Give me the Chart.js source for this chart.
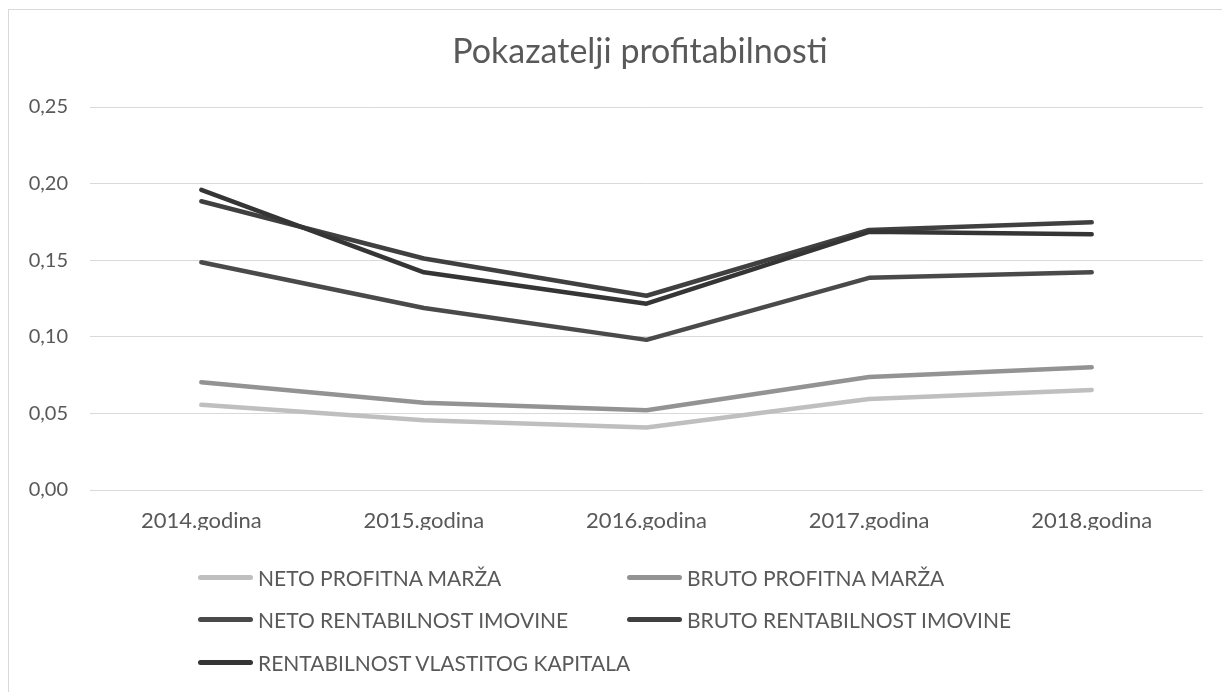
<!DOCTYPE html>
<html><head><meta charset="utf-8">
<script src="https://cdn.jsdelivr.net/npm/chart.js@4/dist/chart.umd.min.js"></script>
<style>
html,body{margin:0;padding:0;background:#fff;width:1222px;height:692px;overflow:hidden;font-family:Lato,sans-serif}
#frame{position:absolute;left:8px;top:9px;width:1214px;height:683px;border-left:1px solid #d9d9d9;border-top:1px solid #d9d9d9;box-sizing:border-box}
#wrap{position:absolute;left:0;top:0;width:1222px;height:545px}
#title{position:absolute;left:340px;width:600px;top:29px;height:42px;line-height:42px;text-align:center;color:#595959;font-size:34px;font-family:Lato,sans-serif}
#legend{position:absolute;left:0;top:0;width:1222px;height:692px;pointer-events:none}
.item{position:absolute;display:flex;align-items:center;height:24px;color:#595959;font-size:21px;font-family:Lato,sans-serif;white-space:nowrap}
.mk{width:55px;height:5px;border-radius:3px;margin-right:5px}
</style></head><body>
<div id="frame"></div>
<div id="wrap"><canvas id="c"></canvas></div>
<div id="title">Pokazatelji profitabilnosti</div>
<div id="legend"></div>
<script>
const categories = ['2014.godina','2015.godina','2016.godina','2017.godina','2018.godina'];
const seriesNames = ['NETO PROFITNA MARŽA','BRUTO PROFITNA MARŽA','NETO RENTABILNOST IMOVINE','BRUTO RENTABILNOST IMOVINE','RENTABILNOST VLASTITOG KAPITALA'];
const netoProfitnaMarza = [0.0556, 0.0456, 0.0408, 0.0594, 0.0653];
const brutoProfitnaMarza = [0.0703, 0.0570, 0.0520, 0.0737, 0.0801];
const netoRentabilnostImovine = [0.1487, 0.1188, 0.0980, 0.1385, 0.1421];
const brutoRentabilnostImovine = [0.1885, 0.1511, 0.1268, 0.1697, 0.1747];
const rentabilnostKapitala = [0.1959, 0.1421, 0.1216, 0.1685, 0.1670];
const yTickLabels = ['0,00','0,05','0,10','0,15','0,20','0,25'];
const colors = ['#bfbfbf','#939393','#4a4a4a','#404040','#353535'];
const values = [netoProfitnaMarza, brutoProfitnaMarza, netoRentabilnostImovine, brutoRentabilnostImovine, rentabilnostKapitala];

const datasets = values.map((v,i)=>({
  label: seriesNames[i], data: v, borderColor: colors[i], backgroundColor: colors[i],
  borderWidth: 4.5, pointRadius: 0, tension: 0, borderCapStyle: 'round', borderJoinStyle: 'round',
  order: values.length - i
}));

new Chart(document.getElementById('c'), {
  type: 'line',
  data: { labels: categories, datasets },
  options: {
    responsive: true, maintainAspectRatio: false, animation: false,
    layout: { padding: { left: 8, right: 19, top: 107, bottom: 15 } },
    plugins: {
      legend: { display: false },
      tooltip: { enabled: false },
      title: { display: false }
    },
    scales: {
      x: {
        offset: true,
        grid: { display: false, drawTicks: false },
        border: { display: false },
        ticks: { color: '#595959', font: { family: 'Lato', size: 22 }, padding: 18, maxRotation: 0 },
        afterFit: s => { s.height = 40; }
      },
      y: {
        min: 0, max: 0.25,
        grid: { color: '#d9d9d9', lineWidth: 1, drawTicks: false },
        border: { display: false },
        ticks: { stepSize: 0.05, color: '#595959', font: { family: 'Lato', size: 20 }, padding: 22,
          callback: (v, i) => yTickLabels[i] },
        afterFit: s => { s.width = 82; }
      }
    }
  }
});

const lg = document.getElementById('legend');
const colX = [198, 627];
const rowY = [577, 619, 662];
seriesNames.forEach((n,i)=>{
  const d = document.createElement('div');
  d.className = 'item';
  d.style.left = colX[i%2] + 'px';
  d.style.top = (rowY[Math.floor(i/2)] - 12) + 'px';
  d.innerHTML = '<span class="mk" style="background:'+colors[i]+'"></span><span>'+n+'</span>';
  lg.appendChild(d);
});
</script>
</body></html>
